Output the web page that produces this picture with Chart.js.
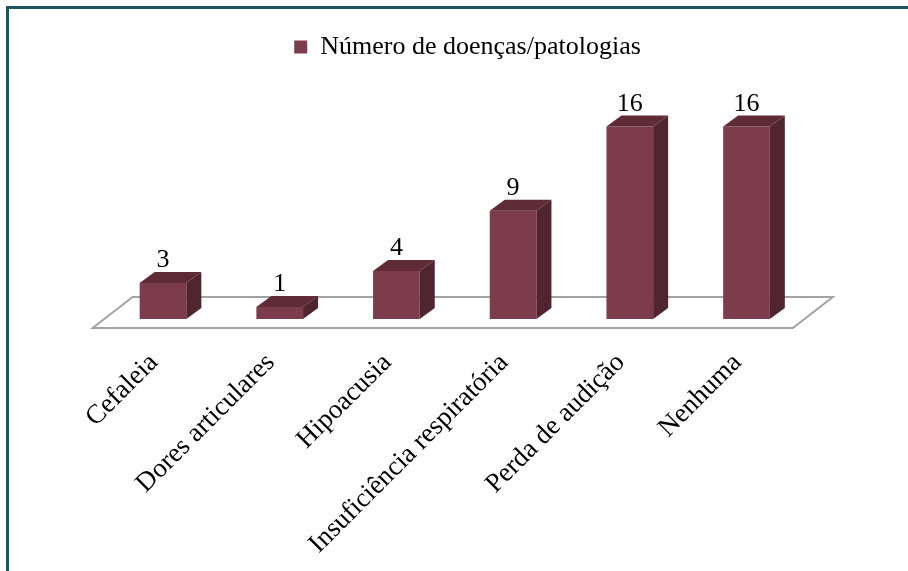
<!DOCTYPE html>
<html lang="pt">
<head>
<meta charset="utf-8">
<title>Número de doenças/patologias</title>
<script src="https://cdn.jsdelivr.net/npm/chart.js@4.4.1/dist/chart.umd.min.js"></script>
<style>
    html, body { margin: 0; padding: 0; background: #ffffff; }
    #caixa { position: relative; width: 908px; height: 571px; overflow: hidden; }
    #moldura {
        position: absolute; left: 6px; top: 6px; right: -10px; bottom: -10px;
        border-top: 3px solid #1e5560; border-left: 3px solid #1e5560;
        pointer-events: none;
    }
</style>
</head>
<body>
<div id="caixa">
    <canvas id="doencas" width="908" height="571"></canvas>
    <div id="moldura"></div>
</div>
<script>
// dados do gráfico
const categorias = [
    'Cefaleia',
    'Dores articulares',
    'Hipoacusia',
    'Insuficiência respiratória',
    'Perda de audição',
    'Nenhuma'
];
const valores = [3, 1, 4, 9, 16, 16];
const nomeSerie = 'Número de doenças/patologias';

const corFrente = '#7c3c4c';
const corTopo = '#5e2b37';
const corLado = '#50252f';
const fonteSerif = 'Liberation Serif, Times New Roman, serif';

// profundidade das barras em 3D
const prof = { dx: 15, dy: 11 };

// aumenta um pouco o espaço abaixo da legenda
const margemLegenda = {
    id: 'margemLegenda',
    beforeInit(chart) {
        const fitOriginal = chart.legend.fit;
        chart.legend.fit = function () {
            fitOriginal.bind(chart.legend)();
            this.height += 8.5;
        };
    }
};

// chão em perspectiva por baixo das barras
const chao = {
    id: 'chao',
    beforeDatasetsDraw(chart) {
        const { ctx, chartArea, scales } = chart;
        const y0 = scales.y.getPixelForValue(0);
        const frenteY = y0 + 9;
        const esq = chartArea.left - 12;
        const dir = chartArea.right - 12;
        ctx.save();
        ctx.beginPath();
        ctx.moveTo(esq, frenteY);
        ctx.lineTo(dir, frenteY);
        ctx.lineTo(dir + 40, frenteY - 31);
        ctx.lineTo(esq + 40, frenteY - 31);
        ctx.closePath();
        ctx.fillStyle = '#ffffff';
        ctx.fill();
        ctx.strokeStyle = '#a3a3a3';
        ctx.lineWidth = 2;
        ctx.stroke();
        ctx.restore();
    }
};

// topo e lateral de cada barra, mais o valor por cima
const barras3d = {
    id: 'barras3d',
    afterDatasetsDraw(chart) {
        const { ctx } = chart;
        const meta = chart.getDatasetMeta(0);
        ctx.save();
        meta.data.forEach((barra, i) => {
            const { x, y, base, width } = barra.getProps(['x', 'y', 'base', 'width'], true);
            const esq = x - width / 2;
            const dir = x + width / 2;

            ctx.fillStyle = corTopo;
            ctx.beginPath();
            ctx.moveTo(esq, y);
            ctx.lineTo(dir, y);
            ctx.lineTo(dir + prof.dx, y - prof.dy);
            ctx.lineTo(esq + prof.dx, y - prof.dy);
            ctx.closePath();
            ctx.fill();

            ctx.fillStyle = corLado;
            ctx.beginPath();
            ctx.moveTo(dir, y);
            ctx.lineTo(dir + prof.dx, y - prof.dy);
            ctx.lineTo(dir + prof.dx, base - prof.dy);
            ctx.lineTo(dir, base);
            ctx.closePath();
            ctx.fill();

            ctx.fillStyle = '#000000';
            ctx.font = '26px ' + fonteSerif;
            ctx.textAlign = 'center';
            ctx.textBaseline = 'alphabetic';
            ctx.fillText(String(valores[i]), x, y - 16);
        });
        ctx.restore();
    }
};

const ctx = document.getElementById('doencas').getContext('2d');
const grafico = new Chart(ctx, {
    type: 'bar',
    data: {
        labels: categorias,
        datasets: [{
            label: nomeSerie,
            data: valores,
            backgroundColor: corFrente,
            borderWidth: 0,
            categoryPercentage: 1,
            barPercentage: 0.4
        }]
    },
    options: {
        responsive: false,
        animation: false,
        layout: {
            padding: { left: 104.65, right: 77.65, top: 24, bottom: 0 }
        },
        plugins: {
            legend: {
                position: 'top',
                labels: {
                    boxWidth: 13,
                    boxHeight: 13,
                    padding: 10,
                    color: '#000000',
                    font: { family: fonteSerif, size: 26 }
                }
            },
            tooltip: { enabled: false }
        },
        scales: {
            x: {
                grid: { display: false, drawTicks: false },
                border: { display: false },
                ticks: {
                    autoSkip: false,
                    minRotation: 45,
                    maxRotation: 45,
                    padding: 28,
                    labelOffset: -9,
                    color: '#000000',
                    font: { family: fonteSerif, size: 27 }
                },
                afterFit(escala) { escala.height = 252; }
            },
            y: {
                position: 'right',
                min: 0,
                max: 20,
                grid: { display: false },
                border: { display: false },
                ticks: { display: false },
                afterFit(escala) { escala.width = 25.5; }
            }
        }
    },
    plugins: [margemLegenda, chao, barras3d]
});
</script>
</body>
</html>
